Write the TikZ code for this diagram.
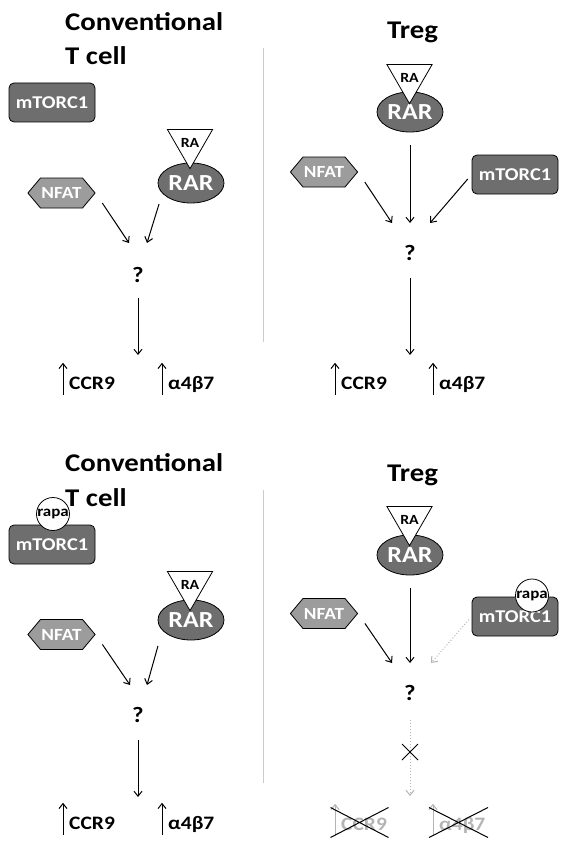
\documentclass[tikz,border=0pt]{standalone}
\usepackage{fontspec}
\setmainfont{Carlito}[FakeStretch=1.13]
\usepackage{tikz}
\usetikzlibrary{arrows.meta,shapes.geometric,shapes.symbols,shapes.misc}
\definecolor{boxgray}{HTML}{6E6E6E}
\definecolor{hexgray}{HTML}{9C9C9C}
\definecolor{fadegray}{HTML}{B4B4B4}

\begin{document}
\begin{tikzpicture}[x=1pt,y=-1pt,
        >={Straight Barb[length=5pt,width=8pt]},
        title/.style={anchor=base west,inner sep=0pt,font=\fontsize{25.5}{25.5}\selectfont\bfseries},
        kinase/.style={draw,line width=0.8pt,rounded corners=5pt,fill=boxgray,text=white,minimum width=86,minimum height=39,font=\fontsize{18}{18}\selectfont\bfseries},
        factor/.style={draw,line width=0.8pt,signal,signal to=west and east,signal pointer angle=100,fill=hexgray,text=white,minimum width=63,minimum height=30,inner sep=1pt,font=\fontsize{17}{17}\selectfont\bfseries},
        receptor/.style={draw,line width=0.8pt,ellipse,fill=boxgray,text=white,minimum width=66,minimum height=40,inner sep=0pt,font=\fontsize{23}{23}\selectfont\bfseries},
        ligand/.style={draw,line width=0.8pt,fill=white,regular polygon,regular polygon sides=3,shape border rotate=180,minimum size=46,inner sep=0pt,font=\fontsize{14}{14}\selectfont\bfseries},
        drug/.style={draw,line width=0.8pt,fill=white,circle,minimum size=33,inner sep=0pt,font=\fontsize{15}{15}\selectfont\bfseries},
        unknown/.style={inner sep=0pt,font=\fontsize{22}{22}\selectfont\bfseries},
        gene/.style={anchor=base west,inner sep=0pt,text height=26pt,text depth=6pt,font=\fontsize{19}{19}\selectfont\bfseries},
        sig/.style={->,line width=1pt},
        blocked/.style={->,fadegray,dotted,line width=1pt},
        crossed/.style={draw,cross out,line width=1pt,inner sep=0pt},
        divider/.style={black!20,line width=0.6pt}]

    \useasboundingbox (0,0) rectangle (568,848);

    \draw[divider] (263,48) -- (263,342);
    \draw[divider] (263,490) -- (263,783);

    \node[title] (titleA1) at (65,31) {Conventional};
    \node[title] (titleA2) at (65,65) {T cell};
    \node[kinase] (mtorA) at (52,102.5) {mTORC1};
    \node[factor] (nfatA) at (61.5,193) {NFAT};
    \node[receptor] (rarA) at (191,183) {RAR};
    \node[ligand] (raA) at (190,142.5) {RA};
    \node[unknown] (qA) at (138,275) {?};
    \coordinate (hA1) at (129,243);
    \coordinate (hA2) at (147,243);
    \coordinate (hA3) at (138,355);
    \draw[sig,shorten <=12pt] (nfatA.east) -- (hA1);
    \draw[sig,shorten <=11pt] (rarA.200) -- (hA2);
    \draw[sig,shorten <=23pt] (qA.center) -- (hA3);
    \node[gene] (ccrA) at (69,389) {CCR9};
    \node[gene] (itgA) at (168,389) {α4β7};
    \draw[sig] ([xshift=-6pt]ccrA.south west) -- ([xshift=-6pt]ccrA.north west);
    \draw[sig] ([xshift=-6pt]itgA.south west) -- ([xshift=-6pt]itgA.north west);

    \node[title] (titleB) at (387,39) {Treg};
    \node[receptor] (rarB) at (410,112) {RAR};
    \node[ligand] (raB) at (409.5,77.5) {RA};
    \node[factor] (nfatB) at (324,172) {NFAT};
    \node[kinase] (mtorB) at (515,174.5) {mTORC1};
    \node[unknown] (qB) at (410,253) {?};
    \coordinate (hB1) at (392,223);
    \coordinate (hB2) at (410,223);
    \coordinate (hB3) at (430,223);
    \coordinate (hB4) at (410,355);
    \draw[sig,shorten <=12pt] (nfatB.east) -- (hB1);
    \draw[sig,shorten <=13pt] (rarB.south) -- (hB2);
    \draw[sig,shorten <=6pt] (mtorB.west) -- (hB3);
    \draw[sig,shorten <=25pt] (qB.center) -- (hB4);
    \node[gene] (ccrB) at (341,389) {CCR9};
    \node[gene] (itgB) at (439,389) {α4β7};
    \draw[sig] ([xshift=-6pt]ccrB.south west) -- ([xshift=-6pt]ccrB.north west);
    \draw[sig] ([xshift=-6pt]itgB.south west) -- ([xshift=-6pt]itgB.north west);

    \node[title] (titleC1) at (65,471) {Conventional};
    \node[title] (titleC2) at (65,506) {T cell};
    \node[kinase] (mtorC) at (52,544.5) {mTORC1};
    \node[drug] (rapaC) at (53,514) {rapa};
    \node[factor] (nfatC) at (61.5,634.5) {NFAT};
    \node[receptor] (rarC) at (191,620) {RAR};
    \node[ligand] (raC) at (190,584.5) {RA};
    \node[unknown] (qC) at (138,715) {?};
    \coordinate (hC1) at (130,685);
    \coordinate (hC2) at (147,685);
    \coordinate (hC3) at (138,797);
    \draw[sig,shorten <=12pt] (nfatC.east) -- (hC1);
    \draw[sig,shorten <=16pt] (rarC.200) -- (hC2);
    \draw[sig,shorten <=25pt] (qC.center) -- (hC3);
    \node[gene] (ccrC) at (69,829) {CCR9};
    \node[gene] (itgC) at (168,829) {α4β7};
    \draw[sig] ([xshift=-6pt]ccrC.south west) -- ([xshift=-6pt]ccrC.north west);
    \draw[sig] ([xshift=-6pt]itgC.south west) -- ([xshift=-6pt]itgC.north west);

    \node[title] (titleD) at (387,481) {Treg};
    \node[receptor] (rarD) at (410,555) {RAR};
    \node[ligand] (raD) at (409.5,519.5) {RA};
    \node[factor] (nfatD) at (324,613.5) {NFAT};
    \node[kinase] (mtorD) at (515,616.5) {mTORC1};
    \node[drug] (rapaD) at (532,595.5) {rapa};
    \node[unknown] (qD) at (410,693) {?};
    \coordinate (hD1) at (392,663);
    \coordinate (hD2) at (410,663);
    \coordinate (hD3) at (431,663);
    \coordinate (hD4) at (410,796);
    \draw[sig,shorten <=12pt] (nfatD.east) -- (hD1);
    \draw[sig,shorten <=13pt] (rarD.south) -- (hD2);
    \draw[blocked,shorten <=4pt] (mtorD.west) -- (hD3);
    \draw[blocked,shorten <=27pt] (qD.center) -- (hD4);
    \node[crossed,minimum size=15] (stopD) at (410,752) {};
    \node[gene,text=fadegray] (ccrD) at (341,830) {CCR9};
    \node[gene,text=fadegray] (itgD) at (439,830) {α4β7};
    \draw[sig,fadegray] ([xshift=-6pt]ccrD.south west) -- ([xshift=-6pt]ccrD.north west);
    \draw[sig,fadegray] ([xshift=-6pt]itgD.south west) -- ([xshift=-6pt]itgD.north west);
    \node[crossed,minimum width=57,minimum height=29] (noccrD) at (359.5,822.5) {};
    \node[crossed,minimum width=58,minimum height=29] (noitgD) at (458.5,822.5) {};
\end{tikzpicture}
\end{document}
